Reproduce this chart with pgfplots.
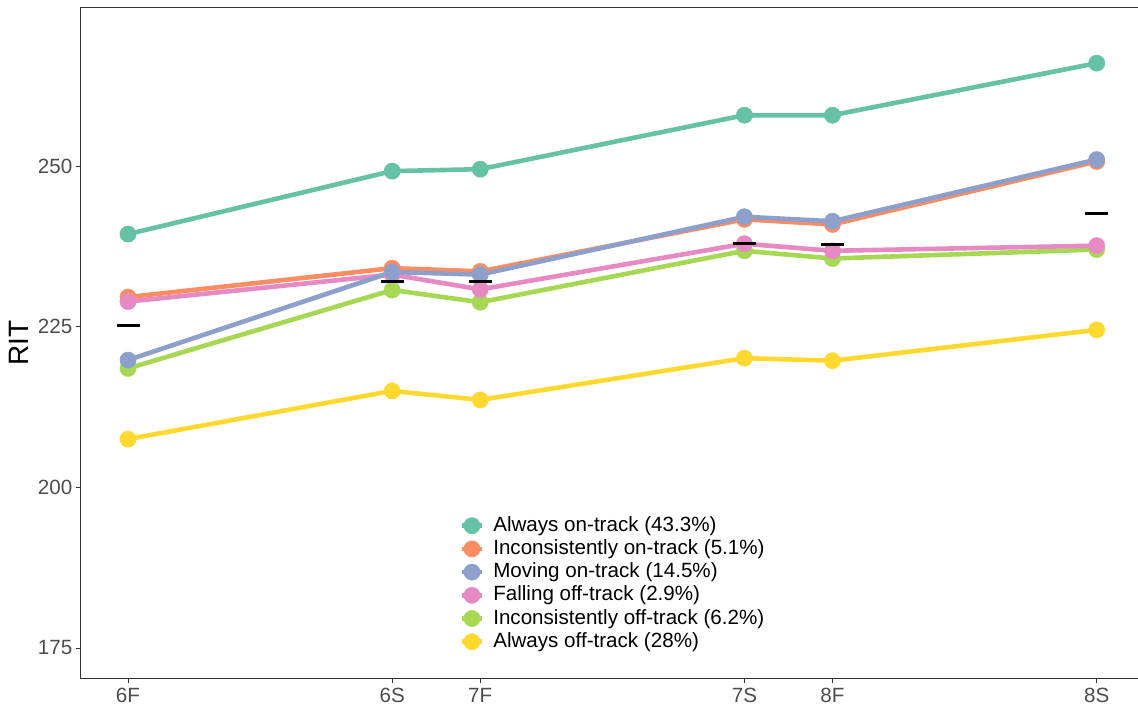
\documentclass[border=0pt]{standalone}
\usepackage{pgfplots}
\pgfplotsset{compat=1.18}
\usepackage{fontspec}
\setmainfont{Liberation Sans}

\definecolor{cTeal}{HTML}{66C2A5}
\definecolor{cOrange}{HTML}{FC8D62}
\definecolor{cBlue}{HTML}{8DA0CB}
\definecolor{cPink}{HTML}{E78AC3}
\definecolor{cGreen}{HTML}{A6D854}
\definecolor{cYellow}{HTML}{FFD92F}
\definecolor{tickgray}{HTML}{4D4D4D}
\definecolor{framegray}{HTML}{333333}

\begin{document}
\begin{tikzpicture}
\fill[white] (0,0) rectangle (1138pt,710pt);
\path[use as bounding box] (0,0) rectangle (1138pt,710pt);
\begin{axis}[
  at={(80.5pt,31.5pt)}, anchor=south west,
  scale only axis, width=1059.5pt, height=671pt,
  xmin=-0.1349, xmax=2.873, ymin=170.25, ymax=274.66,
  xtick={0,0.75,1,1.75,2,2.75},
  xticklabels={6F,6S,7F,7S,8F,8S},
  ytick={175,200,225,250},
  xtick pos=bottom, ytick pos=left,
  tick align=outside, major tick length=4.5pt,
  tick style={framegray, line width=0.9pt},
  axis line style={framegray, line width=1.1pt},
  /pgf/number format/assume math mode=true,
  ticklabel style={font=\fontsize{20.6}{23}\selectfont, text=tickgray},
  yticklabel style={inner sep=0pt, xshift=-3.5pt},
  xticklabel style={inner sep=0pt, yshift=-5pt},
  ylabel={RIT},
  every axis y label/.style={at={(axis description cs:-0.0486,0.5)}, rotate=90, anchor=south, inner sep=0pt, font=\fontsize{28}{32}\selectfont},
  every axis plot/.append style={line width=4.6pt, mark=*, mark size=8.1pt, mark options={solid, line width=0.5pt}},
  legend image code/.code={\draw[mark repeat=2, mark phase=2, #1] plot coordinates {(0pt,0pt) (10pt,0pt) (20pt,0pt)};},
  legend cell align=left,
  legend style={draw=none, fill=none, inner sep=0pt, outer sep=0pt,
    at={(rel axis cs:0.3579,0.245)}, anchor=north west,
    column sep=7pt, row sep=0pt,
    nodes={inner sep=2pt, text height=15.2pt, text depth=4pt, font=\fontsize{20.6}{23}\selectfont}},
  clip=false,
]
% drawing order chosen so the overlapping series stack correctly
\addplot[cTeal] coordinates {(0,239.4) (0.75,249.2) (1,249.5) (1.75,257.9) (2,257.9) (2.75,266.0)};
\addlegendentry{Always on-track (43.3\%)}
\addplot[cOrange] coordinates {(0,229.6) (0.75,234.1) (1,233.6) (1.75,241.7) (2,240.9) (2.75,250.7)};
\addlegendentry{Inconsistently on-track (5.1\%)}
\addplot[cYellow, forget plot] coordinates {(0,207.5) (0.75,215.0) (1,213.6) (1.75,220.1) (2,219.7) (2.75,224.5)};
\addplot[cGreen, forget plot] coordinates {(0,218.5) (0.75,230.7) (1,228.8) (1.75,236.8) (2,235.6) (2.75,237.0)};
\addplot[cPink, forget plot] coordinates {(0,228.9) (0.75,233.1) (1,230.8) (1.75,237.9) (2,236.8) (2.75,237.6)};
\addplot[cBlue] coordinates {(0,219.8) (0.75,233.5) (1,233.1) (1.75,242.1) (2,241.4) (2.75,251.0)};
\addlegendentry{Moving on-track (14.5\%)}
% legend-only entries for the series drawn above with forget plot
\addlegendimage{cPink, line width=4.6pt, mark=*, mark size=8.1pt, mark options={solid, line width=0.5pt}}
\addlegendentry{Falling off-track (2.9\%)}
\addlegendimage{cGreen, line width=4.6pt, mark=*, mark size=8.1pt, mark options={solid, line width=0.5pt}}
\addlegendentry{Inconsistently off-track (6.2\%)}
\addlegendimage{cYellow, line width=4.6pt, mark=*, mark size=8.1pt, mark options={solid, line width=0.5pt}}
\addlegendentry{Always off-track (28\%)}
% benchmark dashes
\addplot[forget plot, draw=none, mark=-, mark size=11.5pt, mark options={black, line width=3pt}]
  coordinates {(0,225.1) (0.75,232.1) (1,231.95) (1.75,238.0) (2,237.8) (2.75,242.6)};
\end{axis}
\end{tikzpicture}
\end{document}
